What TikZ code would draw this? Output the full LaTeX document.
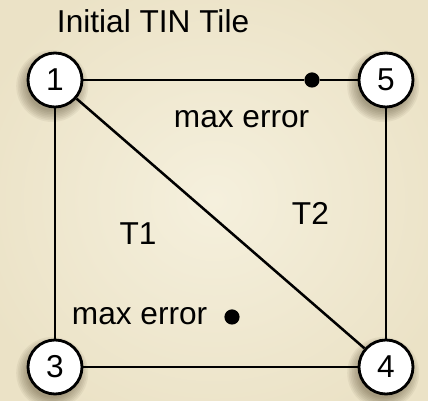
\documentclass[tikz,border=0pt]{standalone}
\usepackage{fontspec}
\setmainfont{Liberation Sans}
\definecolor{paper}{RGB}{245,240,221}
\definecolor{paperedge}{RGB}{235,226,198}
\definecolor{shadowbrown}{RGB}{60,45,20}
\tikzset{
  vertex/.style={circle,draw,line width=2pt,fill=white,minimum size=1.35cm,inner sep=0pt},
  errdot/.style={circle,fill,inner sep=0pt,minimum size=0.38cm},
  edge/.style={line width=1.8pt}
}
\begin{document}
\begin{tikzpicture}[font=\fontsize{22.5}{27}\selectfont]
\useasboundingbox (0,0) rectangle (10.7,10.025);
\shade[inner color=paper,outer color=paperedge] (-1,-1) rectangle (11.7,11.025);
% soft shadows under the corner circles
\foreach \p in {(1.375,8.025),(9.65,8.025),(1.375,0.85),(9.65,0.85)}
  \foreach \r in {0.9,0.86,...,0.6}
    \fill[shadowbrown,opacity=0.06,shift={\p}] (-0.07,-0.15) circle (\r);
\node[anchor=base west] (title) at (1.3,9.2) {Initial TIN Tile};
% the two error points
\node[errdot] (e1) at (7.8,8.025) {};
\node[errdot] (e2) at (5.8,2.1) {};
\node[anchor=base] (m1) at (6.04,6.825) {max error};
\node[anchor=base] (m2) at (3.49,1.9) {max error};
\node[anchor=base] (t1) at (3.45,3.9) {T1};
\node[anchor=base] (t2) at (7.76,4.4) {T2};
% corners of the tile
\node[vertex] (v1) at (1.375,8.025) {1};
\node[vertex] (v5) at (9.65,8.025) {5};
\node[vertex] (v3) at (1.375,0.85) {3};
\node[vertex] (v4) at (9.65,0.85) {4};
\draw[edge] (v1) -- (e1) -- (v5);
\draw[edge] (v5) -- (v4);
\draw[edge] (v4) -- (v3);
\draw[edge] (v3) -- (v1);
\draw[edge] (v1) -- (v4);
\end{tikzpicture}
\end{document}
